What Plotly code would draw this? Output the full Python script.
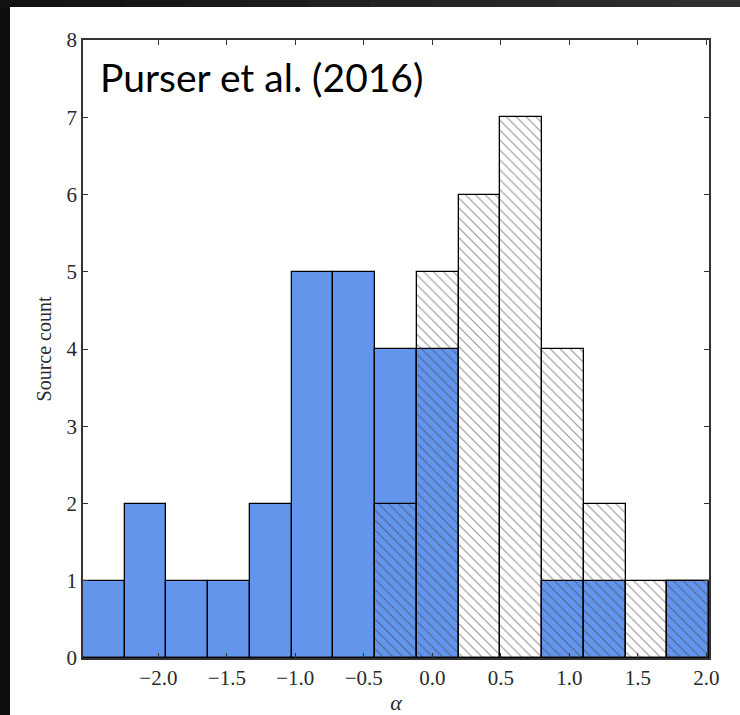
import numpy as np
import plotly.graph_objects as go

# Spectral-index histogram: 15 equal bins spanning the alpha range
alpha_min = -2.55
alpha_max = 2.02
n_bins = 15

# counts per bin (left to right)
counts_solid = [1, 2, 1, 1, 2, 5, 5, 4, 4, 0, 0, 1, 1, 0, 1]
counts_hatched = [0, 0, 0, 0, 0, 0, 0, 2, 5, 6, 7, 4, 2, 1, 1]

x_ticks = [-2.0, -1.5, -1.0, -0.5, 0.0, 0.5, 1.0, 1.5, 2.0]
y_ticks = [0, 1, 2, 3, 4, 5, 6, 7, 8]

edges = np.linspace(alpha_min, alpha_max, n_bins + 1)
centers = 0.5 * (edges[:-1] + edges[1:])
width = edges[1] - edges[0]

W, H = 740, 715
ML, MR, MT, MB = 83, 31, 40, 57

fig = go.Figure()
fig.add_trace(go.Bar(
    x=centers, y=counts_solid, width=width,
    marker=dict(color="#6495ED", line=dict(color="black", width=1.3)),
    showlegend=False,
))
fig.add_trace(go.Bar(
    x=centers, y=counts_hatched, width=width,
    marker=dict(
        color="rgba(0,0,0,0)",
        line=dict(color="black", width=1.3),
        pattern=dict(shape="\\", fgcolor="#3c3c3c", fgopacity=0.55,
                     bgcolor="rgba(0,0,0,0)", size=7, solidity=0.16,
                     fillmode="overlay"),
    ),
    showlegend=False,
))

tick_font = dict(family="Liberation Serif", size=21, color="#2a2a2a")

fig.update_layout(
    width=W, height=H,
    margin=dict(l=ML, r=MR, t=MT, b=MB, pad=0, autoexpand=False),
    paper_bgcolor="white", plot_bgcolor="white",
    barmode="overlay", bargap=0,
    xaxis=dict(
        range=[alpha_min, alpha_max], tickvals=x_ticks,
        ticktext=[f"{v:.1f}".replace("-", "\u2212") for v in x_ticks],
        ticks="inside", ticklen=5, tickwidth=1, tickcolor="#333",
        showline=True, linecolor="#333", linewidth=1.5, mirror="ticks",
        showgrid=False, zeroline=False, tickfont=tick_font, automargin=False,
        title=dict(text="<i>α</i>", font=dict(family="Liberation Serif", size=22, color="#2a2a2a"),
                   standoff=6),
    ),
    yaxis=dict(
        range=[0, 8], tickvals=y_ticks,
        ticks="inside", ticklen=5, tickwidth=1, tickcolor="#333",
        showline=True, linecolor="#333", linewidth=1.5, mirror="ticks",
        showgrid=False, zeroline=False, tickfont=tick_font, automargin=False,
        title=dict(text="Source count", font=dict(family="Liberation Serif", size=20, color="#2a2a2a"),
                   standoff=10),
    ),
    annotations=[dict(
        text="Purser et al. (2016)", xref="paper", yref="paper",
        x=(98 - ML) / (W - ML - MR), y=(H - MB - 77) / (H - MT - MB),
        xanchor="left", yanchor="middle", showarrow=False,
        font=dict(family="Lato", size=39, color="black"),
    )],
)

# dark frame strips along the top and left edges
pw = W - ML - MR
ph = H - MT - MB
def px_x(p):
    return (p - ML) / pw
def px_y(p):
    return (H - MB - p) / ph

shapes = [dict(type="rect", xref="paper", yref="paper",
               x0=px_x(0), x1=px_x(10), y0=px_y(H), y1=px_y(0),
               fillcolor="#0e0e0e", line=dict(width=0), layer="above")]
n_seg = 12
for i in range(n_seg):
    g = int(0x12 + (0x30 - 0x12) * i / (n_seg - 1))
    shapes.append(dict(type="rect", xref="paper", yref="paper",
                       x0=px_x(W * i / n_seg), x1=px_x(W * (i + 1) / n_seg + 1),
                       y0=px_y(7), y1=px_y(0),
                       fillcolor=f"rgb({g},{g},{g})", line=dict(width=0), layer="above"))
fig.update_layout(shapes=shapes)

fig.write_html("out.html")
